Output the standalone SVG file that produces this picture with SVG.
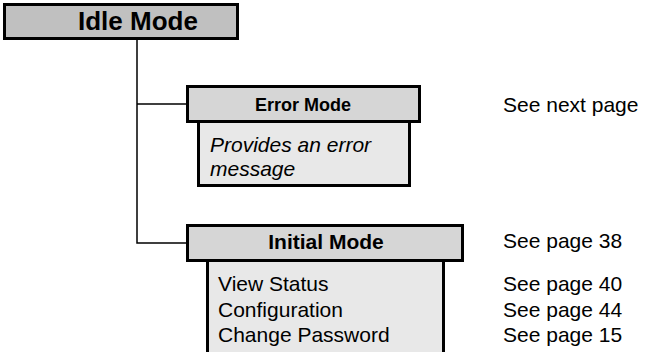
<svg xmlns="http://www.w3.org/2000/svg" width="657" height="352" viewBox="0 0 657 352">
<style>
.box{stroke:#000;stroke-width:3}
.top{fill:#c0c0c0}
.hdr{fill:#d6d6d6}
.body{fill:#e8e8e8}
.t{font-family:"Liberation Sans",Arial,sans-serif;fill:#000}
.b{font-weight:bold}
.i{font-style:italic}
.conn{stroke:#000;stroke-width:1.5;fill:none}
</style>
<rect width="657" height="352" fill="#fff"/>
<g id="connectors">
<path class="conn" d="M137 39 V243 H187 M137 104 H187"/>
</g>
<g id="idle">
<rect class="box top" x="4.5" y="4.5" width="233" height="34"/>
<text class="t b" x="78" y="30" font-size="26">Idle Mode</text>
</g>
<g id="error">
<rect class="box body" x="198.5" y="121.5" width="211" height="64"/>
<rect class="box hdr" x="187.5" y="86.5" width="232" height="35"/>
<text class="t b" x="303" y="110.5" font-size="18" text-anchor="middle">Error Mode</text>
<text class="t i" x="210" y="152" font-size="21">Provides an error</text>
<text class="t i" x="210" y="176" font-size="21">message</text>
</g>
<g id="initial">
<rect class="box body" x="207.5" y="260.5" width="236" height="100"/>
<rect class="box hdr" x="187.5" y="225.5" width="275" height="35"/>
<text class="t b" x="326" y="249" font-size="21" text-anchor="middle">Initial Mode</text>
<text class="t" x="218" y="291" font-size="21">View Status</text>
<text class="t" x="218" y="317" font-size="21">Configuration</text>
<text class="t" x="218" y="342" font-size="21">Change Password</text>
</g>
<g id="refs">
<text class="t" x="503" y="112" font-size="21">See next page</text>
<text class="t" x="503" y="248" font-size="21">See page 38</text>
<text class="t" x="503" y="291" font-size="21">See page 40</text>
<text class="t" x="503" y="317" font-size="21">See page 44</text>
<text class="t" x="503" y="342" font-size="21">See page 15</text>
</g>
</svg>
